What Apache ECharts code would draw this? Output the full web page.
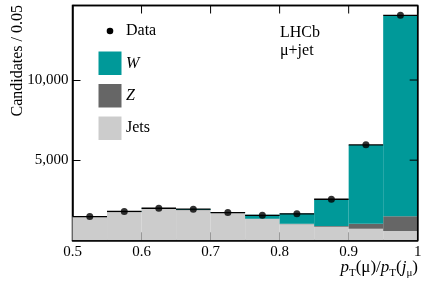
<!DOCTYPE html>
<html><head><meta charset="utf-8">
<script src="https://cdn.jsdelivr.net/npm/echarts@6/dist/echarts.min.js"></script>
<style>html,body{margin:0;padding:0;background:#fff}#c{width:427px;height:290px}</style>
</head><body><div id="c"></div>
<script>
// bin lower edges (width 0.05)
const binStart = [0.50, 0.55, 0.60, 0.65, 0.70, 0.75, 0.80, 0.85, 0.90, 0.95];
const binWidth = 0.05;
const jets = [1490, 1750, 1950, 1880, 1710, 1330, 1000, 840, 720, 580];
const zbos = [10, 10, 10, 10, 10, 10, 30, 50, 320, 920];
const wbos = [20, 50, 30, 70, 50, 260, 640, 1650, 4900, 12500];
const dataVals = [1480, 1800, 2000, 1940, 1730, 1560, 1650, 2560, 5960, 14040];
const xTicks = [0.5, 0.6, 0.7, 0.8, 0.9, 1];
const yTicks = [5000, 10000];

const FONT = 'Liberation Serif';
const cols = {W: '#009999', Z: '#666666', Jets: '#cccccc'};
const X_MIN = 0.5, X_MAX = 1, Y_MIN = 0, Y_MAX = 14650;

function stackData(base, vals) {
  return binStart.map((x, i) => [x, x + binWidth, base[i], base[i] + vals[i]]);
}
const zero = binStart.map(() => 0);
const base2 = jets.slice();
const base3 = jets.map((v, i) => v + zbos[i]);

function rectRender(color) {
  return function (params, api) {
    const p0 = api.coord([api.value(0), api.value(3)]);
    const p1 = api.coord([api.value(1), api.value(2)]);
    return {
      type: 'rect',
      shape: {x: p0[0], y: p0[1], width: p1[0] - p0[0], height: p1[1] - p0[1]},
      style: {fill: color}
    };
  };
}

// frame: top and right edges with inward ticks, placed through the axes' scales
function frameRender(params, api) {
  const tl = api.coord([X_MIN, Y_MAX]);
  const tr = api.coord([X_MAX, Y_MAX]);
  const br = api.coord([X_MAX, Y_MIN]);
  const children = [
    {type: 'line', shape: {x1: tl[0], y1: tl[1], x2: tr[0], y2: tr[1]}, style: {stroke: '#000', lineWidth: 1.5}},
    {type: 'line', shape: {x1: tr[0], y1: tr[1], x2: br[0], y2: br[1]}, style: {stroke: '#000', lineWidth: 1.5}}
  ];
  xTicks.forEach(v => {
    const p = api.coord([v, Y_MAX]);
    children.push({type: 'line', shape: {x1: p[0], y1: p[1], x2: p[0], y2: p[1] + 8}, style: {stroke: '#000', lineWidth: 1}});
  });
  yTicks.forEach(v => {
    const p = api.coord([X_MAX, v]);
    children.push({type: 'line', shape: {x1: p[0], y1: p[1], x2: p[0] - 8, y2: p[1]}, style: {stroke: '#000', lineWidth: 1}});
  });
  return {type: 'group', children: children};
}

const chart = echarts.init(document.getElementById('c'), null, {renderer: 'canvas'});
chart.setOption({
  animation: false,
  grid: {left: 72.5, right: 9.3, top: 5.5, bottom: 49.7, containLabel: false,
         show: true, borderColor: '#000', borderWidth: 1.5},
  xAxis: {
    type: 'value', min: X_MIN, max: X_MAX, interval: 0.1, position: 'bottom',
    axisLine: {show: true, onZero: false, lineStyle: {color: '#000', width: 1.5}},
    splitLine: {show: false},
    axisTick: {show: true, inside: true, length: 8, lineStyle: {color: '#000', width: 1}},
    axisLabel: {show: true, color: '#000', fontFamily: FONT, fontSize: 15, margin: 4,
      formatter: v => String(Math.round(v * 10) / 10)}
  },
  yAxis: {
    type: 'value', min: Y_MIN, max: Y_MAX, interval: 5000, position: 'left',
    axisLine: {show: true, onZero: false, lineStyle: {color: '#000', width: 1.5}},
    axisTick: {show: true, inside: true, length: 8, lineStyle: {color: '#000', width: 1}},
    splitLine: {show: false},
    axisLabel: {color: '#000', fontFamily: FONT, fontSize: 15, margin: 4,
      showMinLabel: false, showMaxLabel: false}
  },
  series: [
    {type: 'custom', name: 'Jets', renderItem: rectRender(cols.Jets), data: stackData(zero, jets), encode: {x: [0, 1], y: [2, 3]}, clip: true, z: 1},
    {type: 'custom', name: 'Z', renderItem: rectRender(cols.Z), data: stackData(base2, zbos), encode: {x: [0, 1], y: [2, 3]}, clip: true, z: 1},
    {type: 'custom', name: 'W', renderItem: rectRender(cols.W), data: stackData(base3, wbos), encode: {x: [0, 1], y: [2, 3]}, clip: true, z: 1},
    {
      type: 'custom', name: 'DataBars', z: 3, clip: true,
      data: binStart.map((x, i) => [x, x + binWidth, dataVals[i]]),
      encode: {x: [0, 1], y: 2},
      renderItem: function (params, api) {
        const a = api.coord([api.value(0), api.value(2)]);
        const b = api.coord([api.value(1), api.value(2)]);
        return {type: 'line', shape: {x1: a[0], y1: a[1], x2: b[0], y2: b[1]}, style: {stroke: '#000', lineWidth: 1.3}};
      }
    },
    {
      type: 'scatter', name: 'Data', z: 4, symbol: 'circle', symbolSize: 7,
      itemStyle: {color: '#000'},
      data: binStart.map((x, i) => [x + binWidth / 2, dataVals[i]])
    },
    {
      type: 'custom', name: 'Frame', z: 5, clip: false, silent: true,
      data: [[X_MIN, X_MAX, Y_MIN, Y_MAX]], encode: {x: [0, 1], y: [2, 3]},
      renderItem: frameRender
    }
  ],
  graphic: [
    {type: 'text', x: 18, y: 5, rotation: Math.PI / 2,
      style: {text: 'Candidates / 0.05', fontFamily: FONT, fontSize: 16, fill: '#000', align: 'right', verticalAlign: 'middle'}},
    {type: 'circle', shape: {cx: 110, cy: 31, r: 3.3}, style: {fill: '#000'}},
    {type: 'text', x: 126, y: 31, style: {text: 'Data', fontFamily: FONT, fontSize: 16, fill: '#000', verticalAlign: 'middle'}},
    {type: 'rect', shape: {x: 98.5, y: 51.5, width: 23, height: 23.5}, style: {fill: cols.W}},
    {type: 'text', x: 126, y: 64, style: {text: 'W', fontFamily: FONT, fontStyle: 'italic', fontSize: 16, fill: '#000', verticalAlign: 'middle'}},
    {type: 'rect', shape: {x: 98.5, y: 84, width: 23, height: 23.5}, style: {fill: cols.Z}},
    {type: 'text', x: 126, y: 96, style: {text: 'Z', fontFamily: FONT, fontStyle: 'italic', fontSize: 16, fill: '#000', verticalAlign: 'middle'}},
    {type: 'rect', shape: {x: 98.5, y: 116.5, width: 23, height: 23.5}, style: {fill: cols.Jets}},
    {type: 'text', x: 126, y: 128, style: {text: 'Jets', fontFamily: FONT, fontSize: 16, fill: '#000', verticalAlign: 'middle'}},
    {type: 'text', x: 280, y: 33, style: {text: 'LHCb', fontFamily: FONT, fontSize: 16, fill: '#000', verticalAlign: 'middle'}},
    {type: 'text', x: 280, y: 51, style: {text: 'μ+jet', fontFamily: FONT, fontSize: 16, fill: '#000', verticalAlign: 'middle'}},
    {type: 'text', x: 418, y: 268, style: {
      text: '{p|p}{s|T}{n|(μ)/}{p|p}{s|T}{n|(}{p|j}{s|μ}{n|)}',
      align: 'right', verticalAlign: 'middle',
      rich: {
        p: {fontFamily: FONT, fontStyle: 'italic', fontSize: 17, lineHeight: 22, fill: '#000', verticalAlign: 'middle'},
        n: {fontFamily: FONT, fontSize: 17, lineHeight: 22, fill: '#000', verticalAlign: 'middle'},
        s: {fontFamily: FONT, fontSize: 11, lineHeight: 10, fill: '#000', verticalAlign: 'bottom'}
      }
    }}
  ]
});
</script>
</body></html>
